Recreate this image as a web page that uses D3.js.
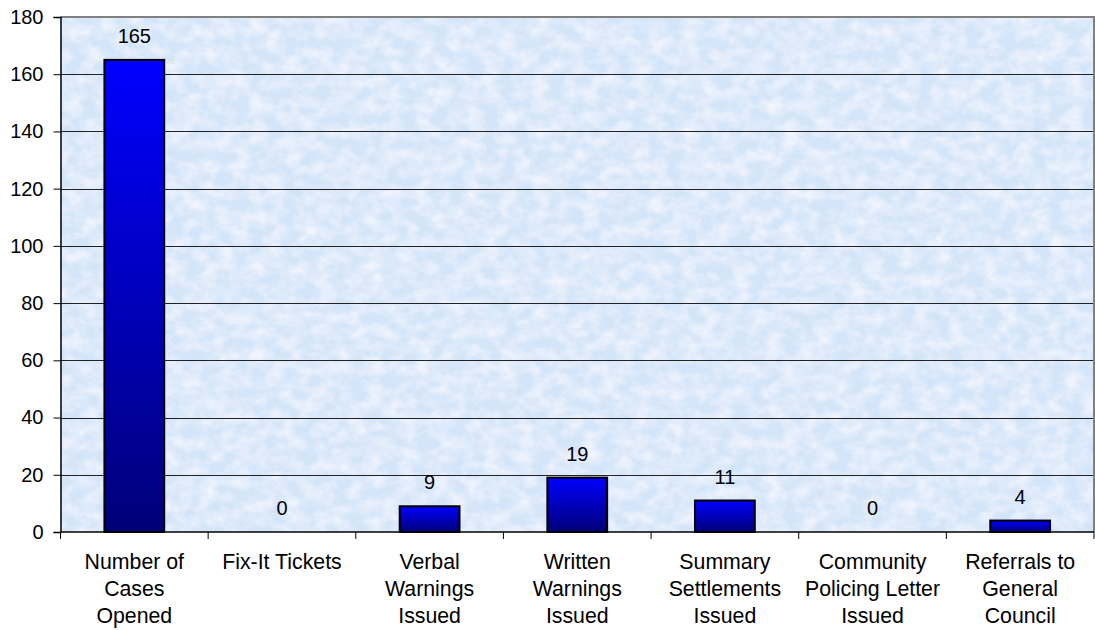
<!DOCTYPE html>
<html>
<head>
<meta charset="utf-8">
<script src="https://cdn.jsdelivr.net/npm/d3@7"></script>
<style>
  html, body { margin: 0; padding: 0; background: #ffffff; }
  svg { display: block; font-family: "Liberation Sans", Arial, sans-serif; }
</style>
</head>
<body>
<svg id="chart" width="1095" height="630"></svg>
<script>
// Enforcement activity counts
const categories = [
  ["Number of", "Cases", "Opened"],
  ["Fix-It Tickets"],
  ["Verbal", "Warnings", "Issued"],
  ["Written", "Warnings", "Issued"],
  ["Summary", "Settlements", "Issued"],
  ["Community", "Policing Letter", "Issued"],
  ["Referrals to", "General", "Council"]
];
const values = [165, 0, 9, 19, 11, 0, 4];
const yTicks = [0, 20, 40, 60, 80, 100, 120, 140, 160, 180];

const svg = d3.select("#chart");
const plot = { left: 60.5, right: 1094, top: 17, bottom: 532 };

const keys = categories.map((c, i) => i);
const x = d3.scaleBand().domain(keys).range([plot.left, plot.right]).padding(0);
const y = d3.scaleLinear().domain([0, 180]).range([plot.bottom, plot.top]);
const barW = x.bandwidth() * 0.405;

const defs = svg.append("defs");

// mottled light-blue backdrop
const tex = defs.append("filter").attr("id", "marble")
  .attr("x", 0).attr("y", 0).attr("width", "100%").attr("height", "100%");
tex.append("feTurbulence").attr("type", "fractalNoise")
  .attr("baseFrequency", "0.06 0.08").attr("numOctaves", 4).attr("seed", 11).attr("result", "noise");
tex.append("feColorMatrix").attr("in", "noise").attr("type", "matrix")
  .attr("values", "0 0 0 0 0.97  0 0 0 0 0.95  0 0 0 0 1  0 0 0 1.8 -0.6")
  .attr("result", "spots");
tex.append("feComposite").attr("in", "spots").attr("in2", "SourceGraphic").attr("operator", "in");

const grad = defs.append("linearGradient").attr("id", "barFill")
  .attr("x1", 0).attr("y1", 0).attr("x2", 0).attr("y2", 1);
grad.append("stop").attr("offset", "0%").attr("stop-color", "#0000ff");
grad.append("stop").attr("offset", "100%").attr("stop-color", "#000078");

const pw = plot.right - plot.left, ph = plot.bottom - plot.top;
svg.append("rect").attr("x", plot.left).attr("y", plot.top)
  .attr("width", pw).attr("height", ph).attr("fill", "#d4e5f9");
svg.append("rect").attr("x", plot.left).attr("y", plot.top)
  .attr("width", pw).attr("height", ph).attr("fill", "#d4e5f9")
  .attr("filter", "url(#marble)").attr("opacity", 0.8);

// horizontal gridlines
svg.append("g").selectAll("line").data(yTicks.filter(t => t > 0 && t < 180)).join("line")
  .attr("x1", plot.left).attr("x2", plot.right)
  .attr("y1", d => Math.round(y(d)) + 0.5).attr("y2", d => Math.round(y(d)) + 0.5)
  .attr("stroke", "#222").attr("stroke-width", 1);

// plot border (top / right)
svg.append("path")
  .attr("d", `M${plot.left},${plot.top} H${plot.right} V${plot.bottom}`)
  .attr("fill", "none").attr("stroke", "#808080").attr("stroke-width", 2);

// bars
svg.append("g").selectAll("rect").data(values).join("rect")
  .attr("x", (d, i) => x(i) + (x.bandwidth() - barW) / 2)
  .attr("y", d => y(d))
  .attr("width", barW)
  .attr("height", d => y(0) - y(d))
  .attr("fill", "url(#barFill)")
  .attr("stroke", "#000").attr("stroke-width", 2)
  .attr("display", d => d > 0 ? null : "none");

// value labels
svg.append("g").selectAll("text").data(values).join("text")
  .attr("x", (d, i) => x(i) + x.bandwidth() / 2)
  .attr("y", d => y(d) - 17)
  .attr("text-anchor", "middle")
  .attr("font-size", 20).attr("fill", "#000")
  .text(d => d);

// y axis
const yAxis = d3.axisLeft(y).tickValues(yTicks).tickSize(7).tickPadding(10);
const gy = svg.append("g").attr("transform", `translate(${plot.left},0)`).call(yAxis);
gy.select(".domain").attr("stroke", "#000").attr("stroke-width", 1.5);
gy.selectAll(".tick line").attr("stroke", "#000");
gy.selectAll(".tick text").attr("font-size", 20).attr("fill", "#000")
  .attr("font-family", "'Liberation Sans', Arial, sans-serif");

// x axis: ticks at category boundaries
const gx = svg.append("g");
gx.append("line").attr("x1", plot.left).attr("x2", plot.right)
  .attr("y1", plot.bottom).attr("y2", plot.bottom)
  .attr("stroke", "#000").attr("stroke-width", 1.5);
const bounds = keys.map(k => x(k)).concat([plot.right]);
gx.selectAll("line.tk").data(bounds).join("line").attr("class", "tk")
  .attr("x1", d => d).attr("x2", d => d)
  .attr("y1", plot.bottom).attr("y2", plot.bottom + 7)
  .attr("stroke", "#000").attr("stroke-width", 1);

const labels = gx.selectAll("text.cat").data(categories).join("text").attr("class", "cat")
  .attr("text-anchor", "middle").attr("font-size", 21.3).attr("fill", "#000");
labels.each(function(lines, i) {
  const t = d3.select(this);
  lines.forEach((ln, j) => {
    t.append("tspan").attr("x", x(i) + x.bandwidth() / 2)
      .attr("y", 569 + j * 27).text(ln);
  });
});
</script>
</body>
</html>
